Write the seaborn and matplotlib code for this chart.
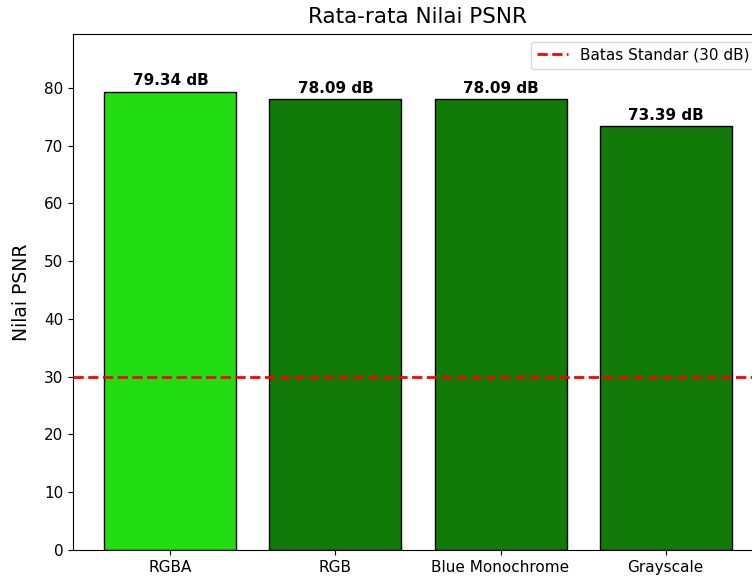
import matplotlib
matplotlib.use("Agg")
import matplotlib.pyplot as plt
import pandas as pd
import seaborn as sns

# data
methods = ["RGBA", "RGB", "Blue Monochrome", "Grayscale"]
psnr = [79.34, 78.09, 78.09, 73.39]
threshold = 30
bar_colors = ["#22dd11", "#127a08", "#127a08", "#127a08"]

df = pd.DataFrame({"Metode": methods, "PSNR": psnr})

fig = plt.figure(figsize=(7.52, 5.79), dpi=100)
# axes run a bit past the right edge, like the cropped original
ax = fig.add_axes([73 / 752, 29 / 579, 690 / 752, 516 / 579])

sns.barplot(data=df, x="Metode", y="PSNR", hue="Metode", palette=bar_colors,
            saturation=1, width=0.8, edgecolor="black", linewidth=1,
            legend=False, ax=ax)

ax.axhline(threshold, color="red", linestyle="--", linewidth=2,
           label="Batas Standar (30 dB)")

for i, v in enumerate(psnr):
    ax.text(i, v + 0.6, f"{v:.2f} dB", ha="center", va="bottom",
            fontsize=11, fontweight="bold")

ax.set_xlim(-0.59, len(methods) - 0.41)
ax.set_ylim(0, max(psnr) + 10)
ax.set_title("Rata-rata Nilai PSNR", fontsize=15.5, pad=8)
ax.set_ylabel("Nilai PSNR", fontsize=13.5, labelpad=9)
ax.set_xlabel("")
ax.tick_params(labelsize=11)
ax.legend(loc="upper right", fontsize=11)

fig.savefig("out.png", dpi=100)
